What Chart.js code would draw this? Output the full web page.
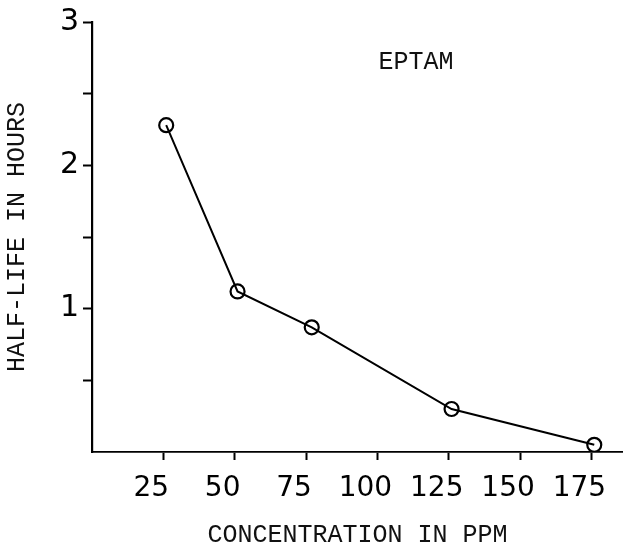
<!DOCTYPE html>
<html>
<head>
<meta charset="utf-8">
<script src="https://cdn.jsdelivr.net/npm/chart.js@4/dist/chart.umd.min.js"></script>
<style>
  html, body { margin: 0; padding: 0; background: #fff; }
  #wrap { width: 632px; height: 550px; }
</style>
</head>
<body>
<div id="wrap"><canvas id="chart"></canvas></div>
<script>
// concentration (ppm) and half-life (hours)
const concentration = [26, 51, 77, 126, 176];
const halfLife = [2.28, 1.12, 0.87, 0.30, 0.05];
const seriesName = 'EPTAM';
const xTitle = 'CONCENTRATION IN PPM';
const yTitle = 'HALF-LIFE IN HOURS';

const typewriter = "'Liberation Mono', 'Courier New', monospace";
const digits = "'DejaVu Sans', sans-serif";

// no tick mark at the origin
const tickAt = (c) => (c.tick && c.tick.value === 0 ? 'rgba(0,0,0,0)' : '#000');

// label placed inside the plot, near the top right
const seriesLabel = {
    id: 'seriesLabel',
    afterDraw(chart) {
        const { ctx, scales } = chart;
        ctx.save();
        ctx.fillStyle = '#111';
        ctx.font = '25px ' + typewriter;
        ctx.textAlign = 'center';
        ctx.textBaseline = 'middle';
        ctx.fillText(seriesName, scales.x.getPixelForValue(113.5), scales.y.getPixelForValue(2.72));
        ctx.restore();
    }
};

const ctx = document.getElementById('chart').getContext('2d');
const myChart = new Chart(ctx, {
    type: 'line',
    data: {
        datasets: [
            {
                label: seriesName,
                data: concentration.map((c, i) => ({ x: c, y: halfLife[i] })),
                borderColor: '#000',
                backgroundColor: 'rgba(255,255,255,0)',
                borderWidth: 2,
                fill: false,
                tension: 0,
                pointStyle: 'circle',
                pointRadius: 7,
                pointBorderWidth: 2.2,
                pointBorderColor: '#000',
                pointBackgroundColor: 'rgba(255,255,255,0)'
            }
        ]
    },
    options: {
        responsive: true,
        maintainAspectRatio: false,
        animation: false,
        layout: { padding: { top: 16, right: 2, left: 0, bottom: 0 } },
        plugins: {
            legend: { display: false },
            tooltip: { enabled: false }
        },
        scales: {
            x: {
                type: 'linear',
                min: 0,
                max: 186,
                afterFit: (scale) => { scale.height = 98; },
                border: { display: true, color: '#000', width: 1.8 },
                grid: {
                    display: true,
                    drawOnChartArea: false,
                    drawTicks: true,
                    tickLength: 8,
                    tickColor: tickAt,
                    tickWidth: 2
                },
                ticks: {
                    stepSize: 25,
                    includeBounds: false,
                    maxRotation: 0,
                    autoSkip: false,
                    padding: 12,
                    labelOffset: -12,
                    color: '#000',
                    font: { family: digits, size: 28 },
                    callback: (v) => (v > 0 && v % 25 === 0 ? String(v) : '')
                },
                title: {
                    display: true,
                    text: xTitle,
                    color: '#111',
                    font: { family: typewriter, size: 25 },
                    padding: { top: 4, bottom: 0 }
                }
            },
            y: {
                type: 'linear',
                min: 0,
                max: 3,
                afterFit: (scale) => { scale.width = 92; },
                border: { display: true, color: '#000', width: 2.2 },
                grid: {
                    display: true,
                    drawOnChartArea: false,
                    drawTicks: true,
                    tickLength: 9,
                    tickColor: tickAt,
                    tickWidth: 2
                },
                ticks: {
                    stepSize: 0.5,
                    autoSkip: false,
                    padding: 4,
                    color: '#000',
                    font: { family: digits, size: 30 },
                    callback: (v) => (v > 0 && Number.isInteger(v) ? String(v) : '')
                },
                title: {
                    display: true,
                    text: yTitle,
                    color: '#111',
                    font: { family: typewriter, size: 25 },
                    padding: { top: 2, bottom: 0 }
                }
            }
        }
    },
    plugins: [seriesLabel]
});
</script>
</body>
</html>
